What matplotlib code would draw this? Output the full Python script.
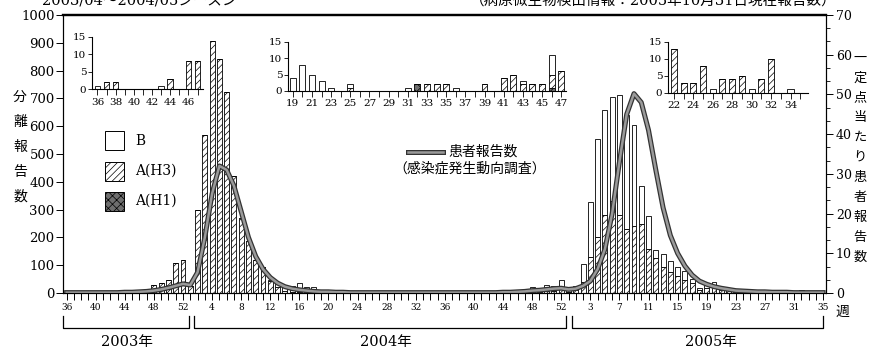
import numpy as np
import matplotlib
matplotlib.use('Agg')
import matplotlib.pyplot as plt
import matplotlib.patheffects as pe
from matplotlib.patches import Rectangle
from matplotlib.lines import Line2D
from matplotlib.ticker import AutoMinorLocator

plt.rcParams['font.family'] = ['DejaVu Serif', 'Noto Sans CJK JP']
plt.rcParams['hatch.linewidth'] = 0.5

# 週番号: 2003年36-52週, 2004年1-53週, 2005年1-35週
weeks = list(range(36, 53)) + list(range(1, 54)) + list(range(1, 36))

# 分離報告数 (B)
b_2003 = [1, 0, 0, 0, 0, 0, 0, 1, 0, 0, 0, 0, 0, 0, 0, 0, 0]
b_2004 = [0] * 11 + [6, 15, 20, 20, 30, 22, 20,
                     4, 8, 5, 3, 1, 0, 1,
                     0, 0, 0, 0, 0,
                     1, 0, 0, 0, 0, 1, 0, 0, 0, 0,
                     0, 0, 1, 0, 0, 6, 0,
                     16, 8, 22, 18, 30, 8]
b_2005 = [14, 63, 197, 354, 375, 375, 434, 411, 363, 136, 117, 30, 46, 40, 33,
          35, 15, 5, 17, 14, 8, 0, 0, 0, 0, 1, 0, 0, 0, 1, 0, 0, 0, 1, 0]

# 分離報告数 A(H3)
h3_2003 = [0, 2, 2, 0, 0, 0, 0, 0, 3, 0, 8, 8, 30, 35, 45, 108, 118]
h3_2004 = [25, 298, 570, 905, 843, 722, 420, 268, 188, 118, 92,
           42, 22, 8, 4, 5, 0, 0,
           0, 0, 0, 0, 0, 0, 1,
           0, 0, 0, 0, 0,
           0, 0, 2, 2, 2, 0, 0, 0, 2, 0,
           4, 5, 2, 2, 2, 4, 6,
           6, 4, 6, 7, 18, 5]
h3_2005 = [12, 40, 130, 200, 282, 330, 280, 230, 240, 250, 160, 125, 95, 75, 60,
           45, 35, 12, 18, 25, 12, 13, 3, 3, 8, 0, 4, 4, 5, 0, 4, 10, 0, 0, 0]

# 分離報告数 A(H1)
h1_2003 = [0] * 17
h1_2004 = [0] * 31 + [2] + [0] * 13 + [1] + [0] * 7
h1_2005 = [0] * 35

# 定点当たり患者報告数
rate_2003 = [0.1, 0.1, 0.1, 0.1, 0.1, 0.1, 0.1, 0.1, 0.2, 0.2, 0.3, 0.4, 0.6,
             0.9, 1.3, 1.8, 2.3]
rate_2004 = [2.0, 5.2, 14.0, 25.0, 32.0, 31.0, 27.0, 20.5, 14.0, 9.2, 6.0, 3.9,
             2.5, 1.6, 1.1, 0.8, 0.6, 0.4, 0.3, 0.3, 0.2, 0.2] + [0.1] * 21 + \
            [0.2, 0.2, 0.3, 0.4, 0.6, 0.7, 0.9, 1.1, 1.2, 0.9]
rate_2005 = [1.1, 1.8, 3.0, 6.0, 11.0, 20.0, 33.0, 45.0, 50.2, 48.0, 41.0, 31.0,
             21.5, 14.5, 10.0, 6.8, 4.5, 3.0, 2.2, 1.6, 1.2, 0.9, 0.6, 0.5, 0.4,
             0.3, 0.3, 0.2, 0.2, 0.2, 0.1, 0.1, 0.1, 0.1, 0.1]

b_cnt = np.array(b_2003 + b_2004 + b_2005, dtype=float)
h3_cnt = np.array(h3_2003 + h3_2004 + h3_2005, dtype=float)
h1_cnt = np.array(h1_2003 + h1_2004 + h1_2005, dtype=float)
rate = np.array(rate_2003 + rate_2004 + rate_2005)
idx = np.arange(len(weeks))

W, H = 870, 352


def box(x0, y0, x1, y1):
    return [x0 / W, 1 - y1 / H, (x1 - x0) / W, (y1 - y0) / H]


def ftxt(x, y, s, **kw):
    return fig.text(x / W, 1 - y / H, s, **kw)


STYLE_H1 = dict(facecolor='#6e6e6e', edgecolor='black', hatch='xxxx')
STYLE_H3 = dict(facecolor='white', edgecolor='black', hatch='/////')
STYLE_B = dict(facecolor='white', edgecolor='black')


def stacked(ax, x, h1, h3, b, width, lw=0.6):
    ax.bar(x, h1, width, linewidth=lw, **STYLE_H1)
    ax.bar(x, h3, width, bottom=h1, linewidth=lw, **STYLE_H3)
    ax.bar(x, b, width, bottom=h1 + h3, linewidth=lw, **STYLE_B)


fig = plt.figure(figsize=(W / 100, H / 100), dpi=100)
ax = fig.add_axes(box(63, 15, 826, 293))

stacked(ax, idx, h1_cnt, h3_cnt, b_cnt, 0.68)
ax.set_xlim(-0.5, 104.4)
ax.set_ylim(0, 1000)
ax.set_yticks(range(0, 1001, 100))
ax.set_xticks(idx)
ax.set_xticklabels([str(w) if i % 4 == 0 else '' for i, w in enumerate(weeks)])
ax.tick_params(axis='x', direction='out', length=5, width=0.7, pad=2, labelsize=6.5)
ax.tick_params(axis='y', direction='out', length=5, width=0.7, pad=1, labelsize=9.5)
ax.spines['top'].set_linewidth(1.6)

ax2 = ax.twinx()
ax2.plot(idx, rate, color='#9a9a9a', lw=1.8, solid_joinstyle='round',
         path_effects=[pe.Stroke(linewidth=3.6, foreground='#333333'), pe.Normal()])
ax2.set_ylim(0, 70)
ax2.set_yticks(range(0, 71, 10))
ax2.yaxis.set_minor_locator(AutoMinorLocator(3))
ax2.tick_params(axis='y', which='major', direction='out', length=5, width=0.7,
                pad=2, labelsize=9)
ax2.tick_params(axis='y', which='minor', direction='out', length=3, width=0.6)
ax2.spines['top'].set_linewidth(1.6)

# 小さな値の拡大図
insets = [
    (box(92, 36.7, 203, 89.3), slice(0, 12), (-0.6, 11.6)),
    (box(288, 41.7, 566, 91), slice(35, 64), (-0.5, 28.5)),
    (box(668, 41.7, 808, 92.7), slice(91, 105), (-0.6, 13.8)),
]
for rect, sl, xl in insets:
    axi = fig.add_axes(rect)
    axi.patch.set_alpha(0)
    xs = np.arange(sl.stop - sl.start)
    stacked(axi, xs, h1_cnt[sl], h3_cnt[sl], b_cnt[sl], 0.62, lw=0.6)
    axi.set_xlim(*xl)
    axi.set_ylim(0, 15)
    axi.set_yticks([0, 5, 10, 15])
    axi.set_xticks(xs)
    wk = weeks[sl]
    axi.set_xticklabels([str(w) if i % 2 == 0 else '' for i, w in enumerate(wk)])
    for s in ('top', 'right'):
        axi.spines[s].set_visible(False)
    axi.tick_params(axis='x', direction='out', length=4, width=0.6, pad=2, labelsize=7.5)
    axi.tick_params(axis='y', direction='out', length=3, width=0.6, pad=1, labelsize=7.5)

# 縦書きの軸ラベル
for i, ch in enumerate('分離報告数'):
    ftxt(20, 97 + 25 * i, ch, fontsize=10, ha='center', va='center')
for i, ch in enumerate('一定点当たり患者報告数'):
    ftxt(860, 58 + 19.9 * i, ch, fontsize=9.5, ha='center', va='center')

ftxt(842, 311.5, '週', fontsize=10, ha='center', va='center')

# 年の区切り
for x0, x1, label, xc in [(63, 189, '2003年', 127), (194, 566, '2004年', 386),
                          (572, 823, '2005年', 711)]:
    fig.add_artist(Line2D([x0 / W, x0 / W, x1 / W, x1 / W],
                          [1 - 316 / H, 1 - 328 / H, 1 - 328 / H, 1 - 316 / H],
                          transform=fig.transFigure, color='black', lw=0.9))
    ftxt(xc, 342, label, fontsize=10.5, ha='center', va='center')

# 凡例
for (y0, style, label) in [(131.5, STYLE_B, 'B'), (161.5, STYLE_H3, 'A(H3)'),
                           (191.5, STYLE_H1, 'A(H1)')]:
    fig.add_artist(Rectangle((105 / W, 1 - (y0 + 19) / H), 19 / W, 19 / H,
                             transform=fig.transFigure, linewidth=0.7, **style))
    ftxt(135, y0 + 9.5, label, fontsize=10, ha='left', va='center')

fig.add_artist(Line2D([408 / W, 443 / W], [1 - 152 / H, 1 - 152 / H],
                      transform=fig.transFigure, color='#9a9a9a', lw=1.8,
                      path_effects=[pe.Stroke(linewidth=3.6, foreground='#333333'),
                                    pe.Normal()]))
ftxt(448, 152, '患者報告数', fontsize=10, ha='left', va='center')
ftxt(470, 169, '（感染症発生動向調査）', fontsize=10, ha='center', va='center')

# 上端の見出し
ftxt(42, 5, '2003/04～2004/05シーズン', fontsize=10.5, ha='left', va='baseline')
ftxt(470, 5, '（病原微生物検出情報：2005年10月31日現在報告数）', fontsize=10.5,
     ha='left', va='baseline')

fig.savefig('out.png', dpi=100)
